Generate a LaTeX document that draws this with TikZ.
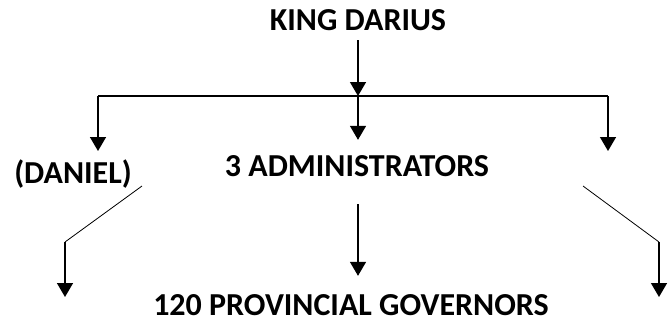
\documentclass[tikz,border=0pt]{standalone}
\usepackage{fontspec}
\setmainfont{Carlito}
\usetikzlibrary{arrows.meta}
\begin{document}
\begin{tikzpicture}[x=1pt,y=-1pt,line join=round,>={Triangle[width=16pt,length=14pt]},font=\fontsize{32}{38}\selectfont\bfseries]
	\useasboundingbox (0,0) rectangle (669,322);
	\def\xmid{358}
	\def\xleft{98}
	\def\xright{608}
	\def\ybar{96}
	\node[anchor=base,inner sep=0] (king) at (\xmid,30){KING DARIUS};
	\node[anchor=base,inner sep=0] (daniel) at (73,183){(DANIEL)};
	\node[anchor=base,inner sep=0] (admin) at (357,176){3 ADMINISTRATORS};
	\node[anchor=base,inner sep=0] (gov) at (351,315){120 PROVINCIAL GOVERNORS};
	\coordinate (J) at (\xmid,\ybar);
	\coordinate (JL) at (\xleft,\ybar);
	\coordinate (JR) at (\xright,\ybar);
	\coordinate (EL) at (\xleft,151);
	\coordinate (ER) at (\xright,151);
	\coordinate (DL1) at (142,186);
	\coordinate (DL2) at (65,242);
	\coordinate (DL3) at (65,297);
	\coordinate (DR1) at (583,186);
	\coordinate (DR2) at (659,242);
	\coordinate (DR3) at (659,297);
	\draw[->,line width=1.5pt,shorten <=10pt] (king.south)--(J);
	\draw[line width=1.5pt] (JL)--(JR);
	\foreach \x/\y in {JL/EL, JR/ER, DL2/DL3, DR2/DR3}
	{
		\draw[->,line width=1.5pt] (\x)--(\y);
	}
	\draw[->,line width=1.5pt,shorten >=15pt] (J)--(J |- admin.north);
	\draw[->,line width=1.5pt,shorten <=28pt,shorten >=18pt] (J |- admin.south)--(J |- gov.north);
	\draw[line width=0.8pt] (DL1)--(DL2) (DR1)--(DR2);
\end{tikzpicture}
\end{document}
